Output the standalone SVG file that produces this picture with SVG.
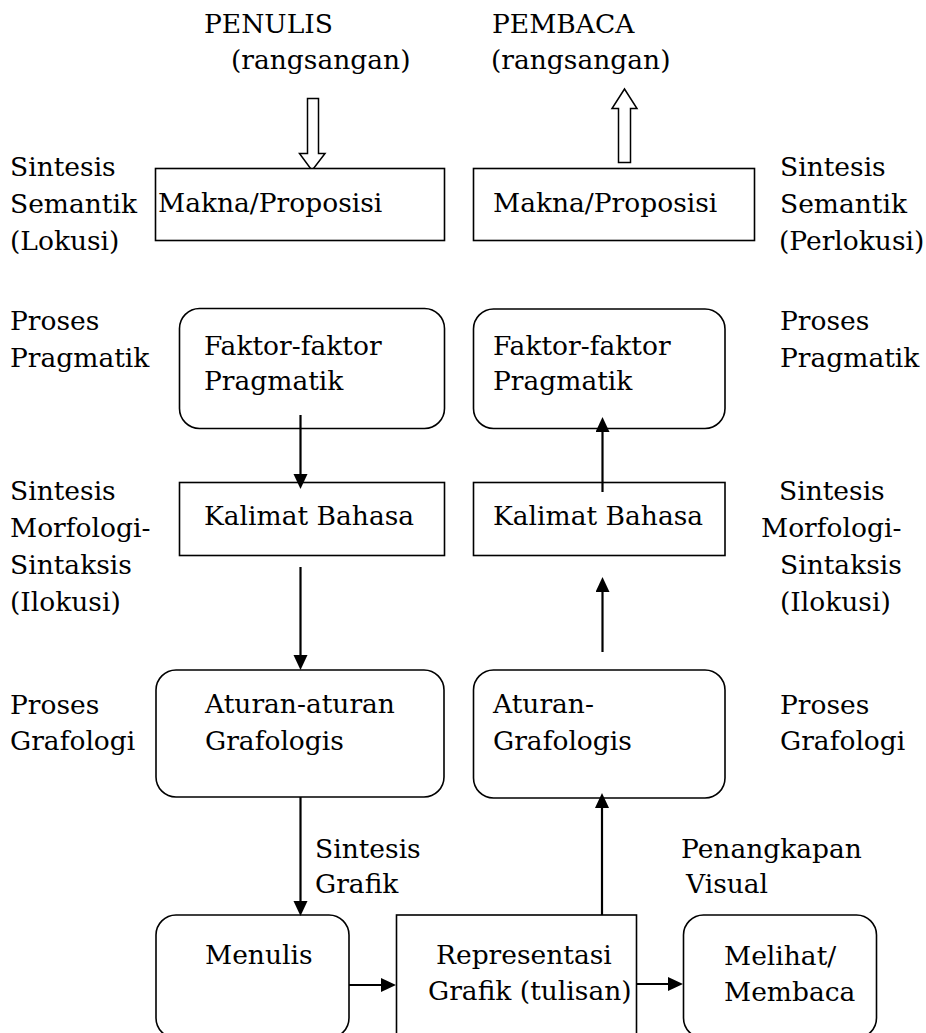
<svg xmlns="http://www.w3.org/2000/svg" width="926" height="1033" viewBox="0 0 926 1033">
<style>
text{font-family:"DejaVu Serif","Liberation Serif",serif;font-size:26.5px;fill:#000}
.box{fill:#fff;stroke:#000;stroke-width:1.6}
.hollow{fill:#fff;stroke:#000;stroke-width:1.5}
.con{stroke:#000;stroke-width:2.2;fill:none;marker-end:url(#ah)}
</style>
<defs>
<marker id="ah" markerUnits="userSpaceOnUse" markerWidth="16" markerHeight="16" refX="5" refY="7" orient="auto">
<path d="M0,0 L15,7 L0,14 z" fill="#000"/>
</marker>
</defs>
<rect width="926" height="1033" fill="#fff"/>

<g id="labels">
<text x="204" y="33">PENULIS</text>
<text x="231" y="69">(rangsangan)</text>
<text x="492" y="33">PEMBACA</text>
<text x="491" y="69">(rangsangan)</text>

<text x="10" y="176">Sintesis</text>
<text x="10" y="213">Semantik</text>
<text x="10" y="250">(Lokusi)</text>
<text x="10" y="330">Proses</text>
<text x="10" y="367">Pragmatik</text>
<text x="10" y="500">Sintesis</text>
<text x="10" y="537">Morfologi-</text>
<text x="10" y="574">Sintaksis</text>
<text x="10" y="611">(Ilokusi)</text>
<text x="10" y="714">Proses</text>
<text x="10" y="750">Grafologi</text>

<text x="780" y="176">Sintesis</text>
<text x="780" y="213">Semantik</text>
<text x="779" y="250">(Perlokusi)</text>
<text x="780" y="330">Proses</text>
<text x="780" y="367">Pragmatik</text>
<text x="779" y="500">Sintesis</text>
<text x="761" y="537">Morfologi-</text>
<text x="780" y="574">Sintaksis</text>
<text x="780" y="611">(Ilokusi)</text>
<text x="780" y="714">Proses</text>
<text x="780" y="750">Grafologi</text>

<text x="315" y="858">Sintesis</text>
<text x="315" y="893">Grafik</text>
<text x="681" y="858">Penangkapan</text>
<text x="686" y="893">Visual</text>
</g>

<g id="hollow-arrows">
<polygon class="hollow" points="307.5,98.5 318.5,98.5 318.5,153.5 325,153.5 312,170.5 299.5,153.5 307.5,153.5"/>
<polygon class="hollow" points="618.5,162.5 630.5,162.5 630.5,108.5 637,108.5 624.5,89 612,108.5 618.5,108.5"/>
</g>

<g id="node-makna-l">
<rect class="box" x="155.5" y="168.5" width="289" height="72"/>
<text x="158" y="212">Makna/Proposisi</text>
</g>
<g id="node-makna-r">
<rect class="box" x="473.5" y="168.5" width="281" height="72"/>
<text x="493" y="212">Makna/Proposisi</text>
</g>

<g id="node-faktor-l">
<rect class="box" x="179.5" y="308.5" width="265" height="120" rx="20"/>
<text x="204" y="355">Faktor-faktor</text>
<text x="204" y="390">Pragmatik</text>
</g>
<g id="node-faktor-r">
<rect class="box" x="473.5" y="309" width="251.5" height="119.5" rx="20"/>
<text x="493" y="355">Faktor-faktor</text>
<text x="493" y="390">Pragmatik</text>
</g>

<g id="node-kalimat-l">
<rect class="box" x="179.5" y="482.5" width="265" height="73"/>
<text x="204" y="525">Kalimat Bahasa</text>
</g>
<g id="node-kalimat-r">
<rect class="box" x="473.5" y="482.5" width="251.5" height="73"/>
<text x="493" y="525">Kalimat Bahasa</text>
</g>

<g id="node-aturan-l">
<rect class="box" x="156" y="670" width="288" height="127" rx="20"/>
<text x="205" y="713">Aturan-aturan</text>
<text x="205" y="750">Grafologis</text>
</g>
<g id="node-aturan-r">
<rect class="box" x="473.5" y="670" width="251.5" height="128" rx="20"/>
<text x="493" y="713">Aturan-</text>
<text x="493" y="750">Grafologis</text>
</g>

<g id="node-menulis">
<rect class="box" x="156" y="915" width="193" height="123" rx="20"/>
<text x="205" y="964">Menulis</text>
</g>
<g id="node-representasi">
<rect class="box" x="396.5" y="915" width="240" height="130"/>
<text x="436" y="964">Representasi</text>
<text x="428" y="1000">Grafik (tulisan)</text>
</g>
<g id="node-melihat">
<rect class="box" x="683.5" y="915" width="193" height="123" rx="20"/>
<text x="724" y="965">Melihat/</text>
<text x="724" y="1001">Membaca</text>
</g>

<g id="connectors">
<line class="con" x1="300.5" y1="415" x2="300.5" y2="479"/>
<line class="con" x1="602.5" y1="492" x2="602.5" y2="427"/>
<line class="con" x1="300.5" y1="567" x2="300.5" y2="660"/>
<line class="con" x1="602.5" y1="652" x2="602.5" y2="587"/>
<line class="con" x1="300.5" y1="797" x2="300.5" y2="906"/>
<line class="con" x1="602" y1="915" x2="602" y2="803"/>
<line class="con" x1="349" y1="985" x2="386" y2="985"/>
<line class="con" x1="636.5" y1="984" x2="673" y2="984"/>
</g>
</svg>
